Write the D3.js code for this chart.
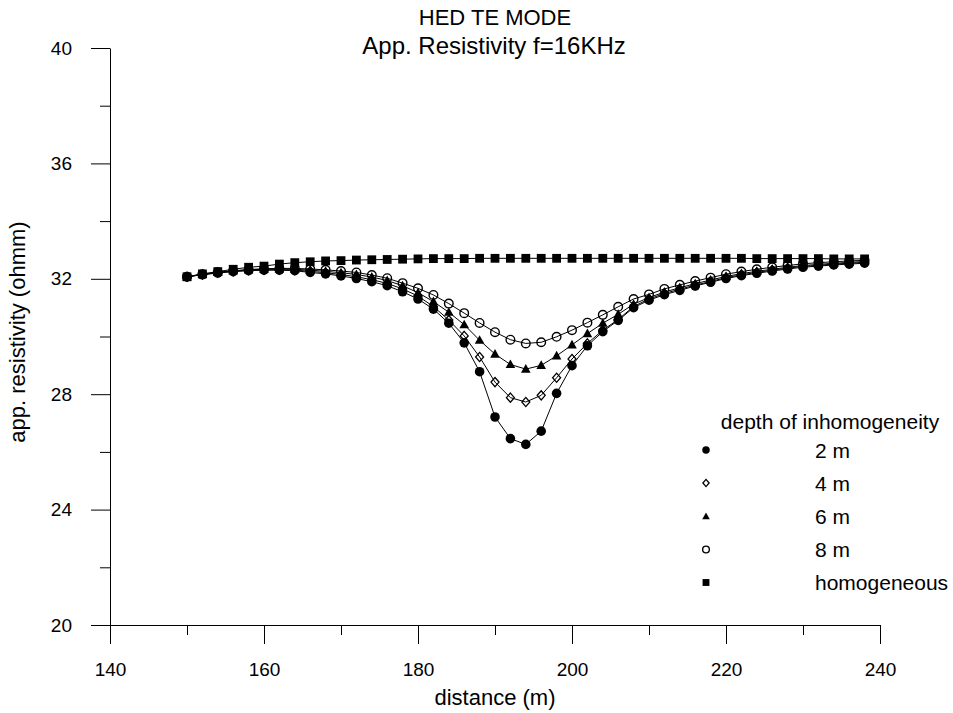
<!DOCTYPE html>
<html><head><meta charset="utf-8">
<script src="https://cdn.jsdelivr.net/npm/d3@7"></script>
<style>body{margin:0;background:#fff}svg{display:block;font-family:"Liberation Sans",Arial,sans-serif}</style>
</head><body><svg id="c" width="953" height="713"></svg>
<script>
const distance = [150,152,154,156,158,160,162,164,166,168,170,172,174,176,178,180,182,184,186,188,190,192,194,196,198,200,202,204,206,208,210,212,214,216,218,220,222,224,226,228,230,232,234,236,238];
const depth2m = [32.07,32.14,32.20,32.25,32.28,32.30,32.30,32.28,32.22,32.17,32.10,32.01,31.90,31.76,31.55,31.30,30.95,30.46,29.78,28.78,27.21,26.46,26.26,26.72,28.03,28.99,29.68,30.17,30.56,31.00,31.26,31.45,31.60,31.75,31.88,32.01,32.11,32.19,32.27,32.34,32.40,32.44,32.48,32.51,32.54];
const depth4m = [32.07,32.15,32.21,32.26,32.30,32.31,32.32,32.30,32.26,32.21,32.15,32.07,31.97,31.84,31.65,31.40,31.04,30.57,30.02,29.29,28.42,27.88,27.73,27.96,28.57,29.22,29.76,30.22,30.59,31.04,31.30,31.49,31.64,31.78,31.91,32.04,32.14,32.22,32.30,32.37,32.43,32.47,32.51,32.54,32.57];
const depth6m = [32.07,32.15,32.22,32.27,32.31,32.33,32.34,32.33,32.30,32.26,32.21,32.15,32.06,31.94,31.76,31.52,31.21,30.84,30.41,29.87,29.39,29.03,28.87,29.00,29.33,29.71,30.10,30.46,30.77,31.12,31.35,31.54,31.69,31.83,31.96,32.08,32.18,32.26,32.33,32.40,32.46,32.50,32.54,32.57,32.60];
const depth8m = [32.07,32.16,32.23,32.28,32.32,32.35,32.36,32.36,32.34,32.31,32.27,32.22,32.13,32.02,31.85,31.67,31.44,31.14,30.81,30.47,30.15,29.89,29.76,29.80,29.99,30.22,30.48,30.75,31.03,31.30,31.46,31.65,31.79,31.92,32.04,32.16,32.25,32.33,32.40,32.46,32.52,32.56,32.59,32.62,32.64];
const homogeneous = [32.07,32.17,32.25,32.33,32.40,32.44,32.51,32.56,32.59,32.62,32.63,32.65,32.66,32.67,32.68,32.69,32.70,32.70,32.70,32.71,32.71,32.71,32.71,32.71,32.71,32.71,32.71,32.71,32.71,32.71,32.71,32.71,32.71,32.71,32.71,32.71,32.71,32.70,32.70,32.70,32.70,32.70,32.69,32.69,32.69];
const seriesNames = ["2 m","4 m","6 m","8 m","homogeneous"];
const xTicks = [140,160,180,200,220,240];
const xMinor = [150,170,190,210,230];
const yTicks = [20,24,28,32,36,40];
const yMinor = [22,26,30,34,38];

const svg = d3.select("#c");
const x = d3.scaleLinear().domain([140,240]).range([110,880]);
const y = d3.scaleLinear().domain([20,40]).range([625,48]);

// axes
const xAxis = svg.append("g").attr("transform","translate(0,625)");
xAxis.call(d3.axisBottom(x).tickValues(xTicks).tickSize(19).tickSizeOuter(0).tickPadding(19));
xAxis.append("g").call(d3.axisBottom(x).tickValues(xMinor).tickSize(10).tickFormat(""));
const yAxis = svg.append("g").attr("transform","translate(110,0)");
yAxis.call(d3.axisLeft(y).tickValues(yTicks).tickSize(19).tickSizeOuter(0).tickPadding(19));
yAxis.append("g").call(d3.axisLeft(y).tickValues(yMinor).tickSize(10).tickFormat(""));
svg.selectAll(".domain").attr("stroke","#000").attr("stroke-width",1);
svg.selectAll(".tick line").attr("stroke","#000");
svg.selectAll(".tick text").attr("font-size",19).attr("fill","#000").attr("font-family","Liberation Sans, Arial, sans-serif");
xAxis.selectAll(".domain").filter((d,i,n)=>n[i].parentNode!==xAxis.node()).remove();
yAxis.selectAll(".domain").filter((d,i,n)=>n[i].parentNode!==yAxis.node()).remove();

// titles
svg.append("text").attr("x",495).attr("y",25).attr("text-anchor","middle").attr("font-size",22).text("HED TE MODE");
svg.append("text").attr("x",494).attr("y",54).attr("text-anchor","middle").attr("font-size",24).text("App. Resistivity f=16KHz");
svg.append("text").attr("x",495).attr("y",705).attr("text-anchor","middle").attr("font-size",22).text("distance (m)");
svg.append("text").attr("transform","translate(25,332) rotate(-90)").attr("text-anchor","middle").attr("font-size",22).text("app. resistivity (ohmm)");

const series = [depth2m, depth4m, depth6m, depth8m, homogeneous];
const symbols = ["circleF","diamond","triangle","circleO","square"];
const line = d3.line().x((d,i)=>x(distance[i])).y(d=>y(d));

function drawSym(g, type, cx, cy, s){
  if(type==="circleF") g.append("circle").attr("cx",cx).attr("cy",cy).attr("r",4.8*s).attr("fill","#000");
  else if(type==="circleO") g.append("circle").attr("cx",cx).attr("cy",cy).attr("r",4.3*s).attr("fill","none").attr("stroke","#000").attr("stroke-width",1.4);
  else if(type==="square") g.append("rect").attr("x",cx-4.4*s).attr("y",cy-4.4*s).attr("width",8.8*s).attr("height",8.8*s).attr("fill","#000");
  else if(type==="triangle") g.append("path").attr("d",`M${cx},${cy-5*s}L${cx+4.8*s},${cy+3.6*s}L${cx-4.8*s},${cy+3.6*s}Z`).attr("fill","#000");
  else if(type==="diamond") g.append("path").attr("d",`M${cx},${cy-4.6*s}L${cx+4*s},${cy}L${cx},${cy+4.6*s}L${cx-4*s},${cy}Z`).attr("fill","none").attr("stroke","#000").attr("stroke-width",1.3);
}

series.forEach((vals,k)=>{
  const g = svg.append("g");
  g.append("path").attr("d",line(vals)).attr("fill","none").attr("stroke","#000").attr("stroke-width",1);
  vals.forEach((v,i)=>drawSym(g, symbols[k], x(distance[i]), y(v), 1));
});

// legend
const lg = svg.append("g");
lg.append("text").attr("x",830).attr("y",429).attr("text-anchor","middle").attr("font-size",21).text("depth of inhomogeneity");
const rowsY = [450,483,516.5,549.5,582.5];
seriesNames.forEach((n,k)=>{
  drawSym(lg, symbols[k], 706, rowsY[k], 0.78);
  lg.append("text").attr("x",815).attr("y",rowsY[k]+7.5).attr("font-size",21).text(n);
});
</script></body></html>
